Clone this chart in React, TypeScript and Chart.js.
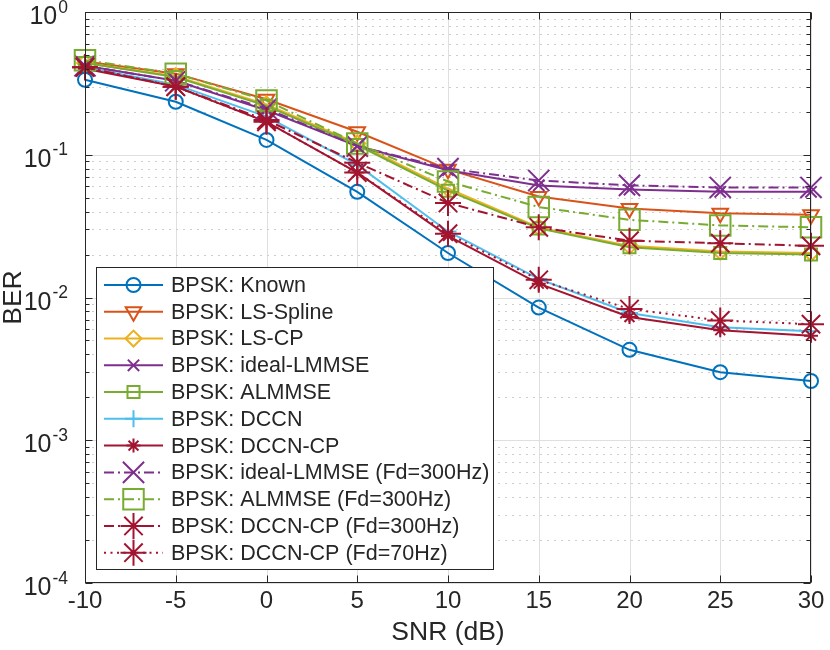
import React, { useEffect, useRef } from 'react';
import { Chart, registerables } from 'chart.js';
import { drawPoint } from 'chart.js/helpers';

Chart.register(...registerables);

// ---- data ----
const snrDb = [-10, -5, 0, 5, 10, 15, 20, 25, 30];
const xTickValues = [-10, -5, 0, 5, 10, 15, 20, 25, 30];
const yDecadeExponents = [0, -1, -2, -3, -4];

const berKnown = [0.335, 0.235, 0.127, 0.055, 0.0205, 0.0085, 0.0043, 0.003, 0.0026];
const berLsSpline = [0.45, 0.37, 0.245, 0.145, 0.079, 0.051, 0.042, 0.039, 0.038];
const berLsCp = [0.44, 0.355, 0.225, 0.12, 0.058, 0.031, 0.023, 0.021, 0.0205];
const berIdealLmmse = [0.42, 0.33, 0.205, 0.115, 0.078, 0.061, 0.057, 0.055, 0.055];
const berAlmmse = [0.44, 0.35, 0.22, 0.117, 0.056, 0.0305, 0.0225, 0.0205, 0.02];
const berDccn = [0.41, 0.31, 0.185, 0.085, 0.029, 0.0135, 0.0078, 0.0062, 0.0058];
const berDccnCp = [0.4, 0.3, 0.17, 0.075, 0.027, 0.0125, 0.0073, 0.0059, 0.0054];
const berIdealLmmse300 = [0.42, 0.33, 0.21, 0.115, 0.08, 0.066, 0.061, 0.059, 0.059];
const berAlmmse300 = [0.46, 0.37, 0.24, 0.12, 0.065, 0.043, 0.035, 0.032, 0.031];
const berDccnCp300 = [0.41, 0.3, 0.175, 0.088, 0.046, 0.031, 0.025, 0.024, 0.023];
const berDccnCp70 = [0.41, 0.3, 0.17, 0.075, 0.028, 0.0133, 0.0083, 0.0069, 0.0065];

const seriesLabels = [
  'BPSK: Known',
  'BPSK: LS-Spline',
  'BPSK: LS-CP',
  'BPSK: ideal-LMMSE',
  'BPSK: ALMMSE',
  'BPSK: DCCN',
  'BPSK: DCCN-CP',
  'BPSK: ideal-LMMSE (Fd=300Hz)',
  'BPSK: ALMMSE (Fd=300Hz)',
  'BPSK: DCCN-CP (Fd=300Hz)',
  'BPSK: DCCN-CP (Fd=70Hz)',
];
const seriesValues = [
  berKnown, berLsSpline, berLsCp, berIdealLmmse, berAlmmse, berDccn, berDccnCp,
  berIdealLmmse300, berAlmmse300, berDccnCp300, berDccnCp70,
];

// ---- styles ----
const SOLID: number[] = [];
const DASHDOT = [10, 4, 2, 4];
const DOTTED = [2, 4.5];
const seriesStyles = [
  { color: '#0072BD', dash: SOLID, marker: 'circle', r: 7, rot: 0 },
  { color: '#D95319', dash: SOLID, marker: 'triangle', r: 9, rot: 180 },
  { color: '#EDB120', dash: SOLID, marker: 'rectRot', r: 8, rot: 0 },
  { color: '#7E2F8E', dash: SOLID, marker: 'crossRot', r: 8, rot: 0 },
  { color: '#77AC30', dash: SOLID, marker: 'rect', r: 8.5, rot: 0 },
  { color: '#4DBEEE', dash: SOLID, marker: 'cross', r: 8.5, rot: 0 },
  { color: '#A2142F', dash: SOLID, marker: 'star', r: 7, rot: 0 },
  { color: '#7E2F8E', dash: DASHDOT, marker: 'crossRot', r: 15, rot: 0 },
  { color: '#77AC30', dash: DASHDOT, marker: 'rect', r: 14.5, rot: 0 },
  { color: '#A2142F', dash: DASHDOT, marker: 'star', r: 13, rot: 0 },
  { color: '#A2142F', dash: DOTTED, marker: 'star', r: 13, rot: 0 },
];

const TEXT = '#262626';
const FONT = '"Liberation Sans", Arial, Helvetica, sans-serif';

const decorPlugin = {
  id: 'matlabDecor',
  beforeDatasetsDraw(chart: any) {
    const { ctx, chartArea: a, scales } = chart;
    const x = scales.x, y = scales.y;
    ctx.save();
    ctx.lineWidth = 1;
    ctx.strokeStyle = '#dfdfdf';
    ctx.setLineDash([]);
    for (const t of xTickValues) {
      const px = Math.round(x.getPixelForValue(t)) + 0.5;
      ctx.beginPath(); ctx.moveTo(px, a.top); ctx.lineTo(px, a.bottom); ctx.stroke();
    }
    for (const e of yDecadeExponents) {
      const py = Math.round(y.getPixelForValue(Math.pow(10, e))) + 0.5;
      ctx.beginPath(); ctx.moveTo(a.left, py); ctx.lineTo(a.right, py); ctx.stroke();
    }
    ctx.strokeStyle = '#cdcdcd';
    ctx.setLineDash([2, 5]);
    for (const e of yDecadeExponents) {
      if (e === 0) continue;
      for (let m = 2; m <= 9; m++) {
        const py = Math.round(y.getPixelForValue(m * Math.pow(10, e))) + 0.5;
        ctx.beginPath(); ctx.moveTo(a.left, py); ctx.lineTo(a.right, py); ctx.stroke();
      }
    }
    ctx.restore();
  },
  afterDatasetsDraw(chart: any) {
    const { ctx, chartArea: a, scales } = chart;
    const x = scales.x, y = scales.y;
    ctx.save();
    ctx.setLineDash([]);
    ctx.strokeStyle = TEXT;
    ctx.lineWidth = 1;
    const L = Math.round(a.left) + 0.5, R = Math.round(a.right) - 0.5;
    const T = Math.round(a.top) + 0.5, B = Math.round(a.bottom) - 0.5;
    ctx.strokeRect(L, T, R - L, B - T);
    const majLen = 7, minLen = 4;
    ctx.beginPath();
    for (const t of xTickValues) {
      const px = Math.round(x.getPixelForValue(t)) + 0.5;
      ctx.moveTo(px, B); ctx.lineTo(px, B - majLen);
      ctx.moveTo(px, T); ctx.lineTo(px, T + majLen);
    }
    for (const e of yDecadeExponents) {
      const py = Math.round(y.getPixelForValue(Math.pow(10, e))) + 0.5;
      ctx.moveTo(L, py); ctx.lineTo(L + majLen, py);
      ctx.moveTo(R, py); ctx.lineTo(R - majLen, py);
      if (e === 0) continue;
      for (let m = 2; m <= 9; m++) {
        const pm = Math.round(y.getPixelForValue(m * Math.pow(10, e))) + 0.5;
        ctx.moveTo(L, pm); ctx.lineTo(L + minLen, pm);
        ctx.moveTo(R, pm); ctx.lineTo(R - minLen, pm);
      }
    }
    ctx.stroke();

    // y tick labels with superscript exponents
    ctx.fillStyle = TEXT;
    ctx.textBaseline = 'alphabetic';
    ctx.textAlign = 'left';
    const baseFont = '25px ' + FONT;
    const expFont = '17.5px ' + FONT;
    for (const e of yDecadeExponents) {
      const py = y.getPixelForValue(Math.pow(10, e));
      const expText = String(e);
      ctx.font = baseFont;
      const wBase = ctx.measureText('10').width;
      ctx.font = expFont;
      const wExp = ctx.measureText(expText).width;
      const right = a.left - 17;
      const start = right - wBase - wExp - 1;
      ctx.font = baseFont;
      ctx.fillText('10', start, py + 12);
      ctx.font = expFont;
      ctx.fillText(expText, start + wBase + 1, py + 0.5);
    }

    // legend
    const bx = 96.5, by = 267.5, bw = 397, bh = 302;
    ctx.fillStyle = '#ffffff';
    ctx.fillRect(bx, by, bw, bh);
    ctx.strokeStyle = TEXT;
    ctx.lineWidth = 1;
    ctx.strokeRect(bx, by, bw, bh);
    const rowH = 26.77;
    const y0 = 285;
    ctx.font = '21.5px ' + FONT;
    ctx.textBaseline = 'middle';
    for (let i = 0; i < seriesLabels.length; i++) {
      const st = seriesStyles[i];
      const cy = y0 + i * rowH;
      ctx.strokeStyle = st.color;
      ctx.lineWidth = 2;
      ctx.setLineDash(st.dash);
      ctx.beginPath(); ctx.moveTo(104, cy); ctx.lineTo(163, cy); ctx.stroke();
      ctx.setLineDash([]);
      ctx.fillStyle = 'rgba(0,0,0,0)';
      ctx.strokeStyle = st.color;
      ctx.lineWidth = 2;
      drawPoint(ctx, { pointStyle: st.marker as any, rotation: st.rot, radius: st.r, borderWidth: 2 } as any, 133.5, cy);
      ctx.fillStyle = TEXT;
      ctx.fillText(seriesLabels[i], 171, cy + 1);
    }
    ctx.restore();
  },
};

export default function App() {
  const ref = useRef<HTMLCanvasElement | null>(null);
  useEffect(() => {
    const canvas = ref.current;
    if (!canvas) return;
    const datasets = seriesValues.map((vals, i) => {
      const st = seriesStyles[i];
      return {
        label: seriesLabels[i],
        data: snrDb.map((s, j) => ({ x: s, y: vals[j] })),
        borderColor: st.color,
        backgroundColor: 'rgba(0,0,0,0)',
        borderWidth: 2,
        borderDash: st.dash,
        pointStyle: st.marker,
        pointRadius: st.r,
        pointRotation: st.rot,
        pointBorderColor: st.color,
        pointBackgroundColor: 'rgba(0,0,0,0)',
        pointBorderWidth: 2,
        pointHoverRadius: st.r,
        tension: 0,
        fill: false,
        clip: false as any,
        order: 100 - i,
      };
    });
    const chart = new Chart(canvas, {
      type: 'line',
      data: { datasets: datasets as any },
      options: {
        responsive: false,
        animation: false,
        events: [],
        layout: { autoPadding: false, padding: { left: 0, right: 19, top: 12, bottom: 0 } },
        plugins: { legend: { display: false }, tooltip: { enabled: false } },
        scales: {
          x: {
            type: 'linear',
            min: -10,
            max: 30,
            afterBuildTicks: (s: any) => { s.ticks = xTickValues.map((v) => ({ value: v })); },
            afterFit: (s: any) => { s.height = 67; },
            grid: { display: false, drawTicks: false },
            border: { display: false },
            ticks: {
              color: TEXT,
              font: { family: FONT, size: 24 },
              padding: 4,
              maxRotation: 0,
              autoSkip: false,
              callback: (v: any) => String(v),
            },
            title: {
              display: true,
              text: 'SNR (dB)',
              color: TEXT,
              font: { family: FONT, size: 26.5 },
              padding: { top: 0, bottom: 1 },
            },
          },
          y: {
            type: 'logarithmic',
            min: 1e-4,
            max: 1,
            afterFit: (s: any) => { s.width = 85; },
            grid: { display: false, drawTicks: false },
            border: { display: false },
            ticks: { display: false },
            title: {
              display: true,
              text: 'BER',
              color: TEXT,
              font: { family: FONT, size: 26.5 },
              padding: { top: -2, bottom: 0 },
            },
          },
        },
      },
      plugins: [decorPlugin as any],
    });
    return () => chart.destroy();
  }, []);
  return (
    <div style={{ position: 'fixed', left: 0, top: 0, width: 830, height: 650, background: '#fff' }}>
      <canvas ref={ref} width={830} height={650} style={{ width: 830, height: 650, display: 'block' }} />
    </div>
  );
}
